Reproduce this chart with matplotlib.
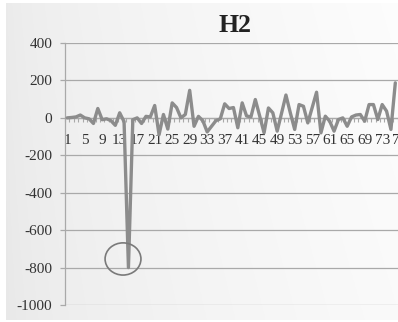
import numpy as np
import matplotlib
matplotlib.use("Agg")
import matplotlib.pyplot as plt
from matplotlib.patches import Ellipse

plt.rcParams["font.family"] = ["Liberation Serif", "DejaVu Serif"]

# ---- data ----
categories = list(range(1, 77))
values = [0, 2, 5, 15, 0, -5, -30, 50, -10, -5,
          -15, -40, 27, -20, -800, -10, 0, -30, 8, 5,
          66, -90, 18, -60, 80, 55, 0, 18, 147, -45,
          8, -15, -75, -45, -15, -5, 75, 50, 55, -53,
          80, 10, 5, 98, 10, -80, 53, 27, -71, 25,
          122, 27, -62, 71, 62, -27, 55, 137, -80, 9,
          -18, -71, -9, 0, -45, 5, 15, 18, -18, 71,
          71, -9, 71, 36, -62, 187]
x_tick_labels = [str(i) for i in range(1, 78, 4)]
y_ticks = [400, 200, 0, -200, -400, -600, -800, -1000]
title = "H2"

W, H = 398, 322
fig = plt.figure(figsize=(W / 100, H / 100), dpi=100, facecolor="white")

# gradient panel background
bg = fig.add_axes([6 / W, 2 / H, 392 / W, 317 / H], zorder=-5)
xx, yy = np.meshgrid(np.linspace(0, 1, 200), np.linspace(0, 1, 160))
g = 0.91 + 0.07 * xx ** 0.6 + 0.01 * yy
bg.imshow(np.dstack([g, g, g]), aspect="auto", extent=(0, 1, 0, 1), origin="lower")
bg.set_axis_off()

left_px = 65
step = 4.375
xmin, xmax = 0.5, 77.5
ax_w = (xmax - xmin) * step
top_px, bot_px = 43, 305
ax = fig.add_axes([left_px / W, (H - bot_px) / H, ax_w / W, (bot_px - top_px) / H])
ax.set_facecolor("none")

ax.plot(categories, values, color="#8c8c8c", lw=2.4,
        solid_joinstyle="round", solid_capstyle="round", zorder=3, clip_on=False)

ax.set_xlim(xmin, xmax)
ax.set_ylim(-1000, 400)

grid_c = "#a9a9a9"
lab_c = "#333333"
ax.set_yticks(y_ticks)
ax.set_yticklabels([str(v) for v in y_ticks])
ax.yaxis.grid(True, color=grid_c, lw=0.9)
ax.tick_params(axis="y", length=3.6, width=0.9, color=grid_c, pad=5.5,
               labelsize=11, labelcolor=lab_c)

ax.set_xticks(range(1, 78, 4))
ax.set_xticklabels(x_tick_labels)
ax.set_xticks(np.arange(0.5, 78, 1), minor=True)
ax.tick_params(axis="x", which="major", length=0, pad=11.5, labelsize=11, labelcolor=lab_c)
ax.tick_params(axis="x", which="minor", length=3, width=0.8, color=grid_c, direction="out")

for s in ["top", "right"]:
    ax.spines[s].set_visible(False)
ax.spines["bottom"].set_position(("data", 0))
ax.spines["bottom"].set_color(grid_c)
ax.spines["bottom"].set_linewidth(0.9)
ax.spines["left"].set_color(grid_c)
ax.spines["left"].set_linewidth(0.9)
ax.set_axisbelow(True)

# highlight circle around the outlier
ell = Ellipse((13.76, -754), 8.2, 172, fill=False, edgecolor="#7a7a7a", lw=1.2, zorder=4)
ax.add_patch(ell)

fig.text(235 / W, 1 - 25 / H, title, ha="center", va="center",
         fontsize=18.5, fontweight="bold", color="#222222")

fig.savefig("out.png", dpi=100, facecolor="white")
